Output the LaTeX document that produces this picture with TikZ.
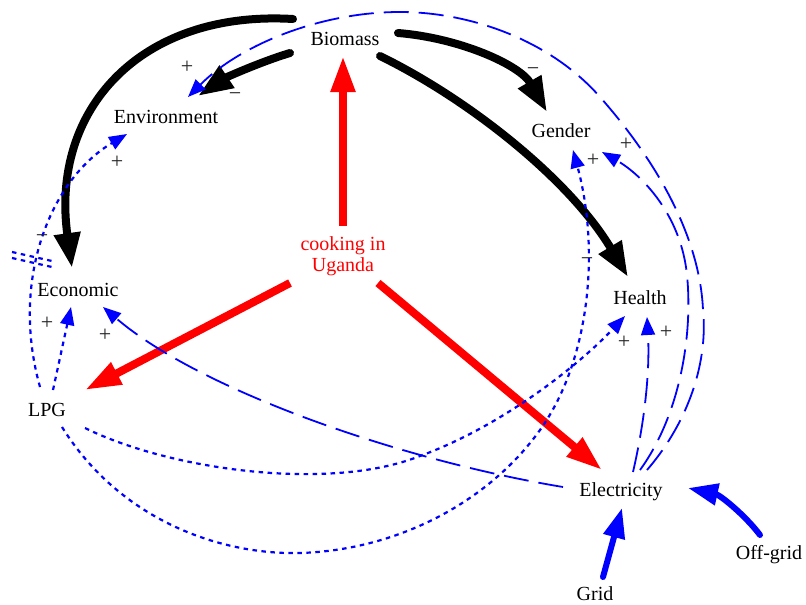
\documentclass[tikz,border=0pt]{standalone}
\usepackage{fontspec}
\setmainfont{Liberation Serif}
\usetikzlibrary{arrows.meta}
\begin{document}
\begin{tikzpicture}[x=1pt,y=-1pt,
  lbl/.style={font=\fontsize{20}{21}\selectfont, inner sep=0pt},
  pol/.style={font=\fontsize{22}{22}\selectfont, inner sep=0pt, text=black!85},
  blk/.style={line width=8pt, line cap=round, -{Triangle[length=35pt,width=25pt]}},
  redar/.style={red, line width=8pt, -{Triangle[length=36pt,width=23pt]}},
  bthick/.style={blue, line width=6pt, line cap=round, -{Triangle[length=30pt,width=21pt]}},
  dsh/.style={blue, line width=1.8pt, dash pattern=on 25pt off 10pt, -{Triangle[length=18pt,width=14pt]}},
  dotl/.style={blue, line width=2.2pt, dash pattern=on 4.5pt off 4.5pt},
  dot/.style={dotl, -{Triangle[length=18pt,width=14pt]}},
]
\fill[white] (0,0) rectangle (806,605);
\useasboundingbox (0,0) rectangle (806,605);

% nodes
\node[lbl] (bio) at (345,39) {Biomass};
\node[lbl] (env) at (166,117) {Environment};
\node[lbl] (gen) at (561,131) {Gender};
\node[lbl] (eco) at (78,290) {Economic};
\node[lbl] (hea) at (640,298) {Health};
\node[lbl, text=red, align=center] (cook) at (343,256) {cooking in\\Uganda};
\node[lbl] (lpg) at (47,410) {LPG};
\node[lbl] (elec) at (621,492) {Electricity};
\node[lbl] (grid) at (595,594) {Grid};
\node[lbl] (off) at (769,555) {Off-grid};

% black links from Biomass
\draw[blk] ([shift={(-52,-20)}]bio.center) .. controls (140,10) and (50,110) .. ([shift={(-6,-22)}]eco.center);
\draw[blk] ([shift={(-55,14)}]bio.center) .. controls (260,62) and (225,78) .. ([shift={(32,-21)}]env.center);
\draw[blk] ([shift={(53,-6)}]bio.center) .. controls (460,38) and (520,65) .. ([shift={(-14,-19)}]gen.center);
\draw[blk] ([shift={(35,17)}]bio.center) .. controls (470,100) and (570,180) .. ([shift={(-12,-21)}]hea.center);

% red links from cooking
\draw[redar] ([shift={(0,-30)}]cook.center) -- ([shift={(-2,17)}]bio.center);
\draw[redar] ([shift={(-53,27)}]cook.center) -- ([shift={(38,-20)}]lpg.center);
\draw[redar] ([shift={(35,27)}]cook.center) -- ([shift={(-19,-22)}]elec.center);

% thick blue
\draw[bthick] ([shift={(8,-17)}]grid.center) -- ([shift={(1,16)}]elec.center);
\draw[bthick] ([shift={(-9,-20)}]off.center) .. controls (745,515) and (720,495) .. ([shift={(67,-4)}]elec.center);

% dashed from Electricity
\draw[dsh] ([shift={(-58,-5)}]elec.center) .. controls (400,460) and (200,390) .. ([shift={(25,17)}]eco.center);
\draw[dsh] ([shift={(12,-20)}]elec.center) .. controls (645,420) and (650,370) .. ([shift={(7,19)}]hea.center);
\draw[dsh] ([shift={(19,-22)}]elec.center) .. controls (680,415) and (693,335) .. (687,275)
  .. controls (681,215) and (642,175) .. ([shift={(41,21)}]gen.center);
\draw[dsh] ([shift={(26,-22)}]elec.center) .. controls (690,420) and (708,360) .. (703,310)
  .. controls (700,240) and (660,165) .. (600,97)
  .. controls (550,40) and (470,12) .. (400,12)
  .. controls (320,12) and (240,45) .. ([shift={(22,-20)}]env.center);

% dotted from LPG
\draw[dot] ([shift={(6,-20)}]lpg.center) -- ([shift={(-7,17)}]eco.center);
\draw[dot] ([shift={(-7,-23)}]lpg.center) .. controls (10,280) and (50,180) .. ([shift={(-39,17)}]env.center);
\draw[dotl] (12,252) -- (52,261);
\draw[dotl] (12,258) -- (52,267);
\draw[dot] ([shift={(38,18)}]lpg.center) .. controls (170,470) and (330,492) .. (420,456)
  .. controls (505,425) and (582,362) .. ([shift={(-15,18)}]hea.center);
\draw[dot] ([shift={(15,17)}]lpg.center) .. controls (120,520) and (220,555) .. (300,553)
  .. controls (400,550) and (490,500) .. (540,430)
  .. controls (590,360) and (600,250) .. ([shift={(12,19)}]gen.center);

% polarity labels
\node[pol] (p1) at (235,97) {−};
\node[pol] (p2) at (187,67) {+};
\node[pol] (p3) at (533,72) {−};
\node[pol] (p4) at (587,262) {−};
\node[pol] (p5) at (42,239) {−};
\node[pol] (p6) at (117,162) {+};
\node[pol] (p7) at (47,323) {+};
\node[pol] (p8) at (105,335) {+};
\node[pol] (p9) at (593,160) {+};
\node[pol] (p10) at (626,144) {+};
\node[pol] (p11) at (624,342) {+};
\node[pol] (p12) at (666,332) {+};
\end{tikzpicture}
\end{document}
